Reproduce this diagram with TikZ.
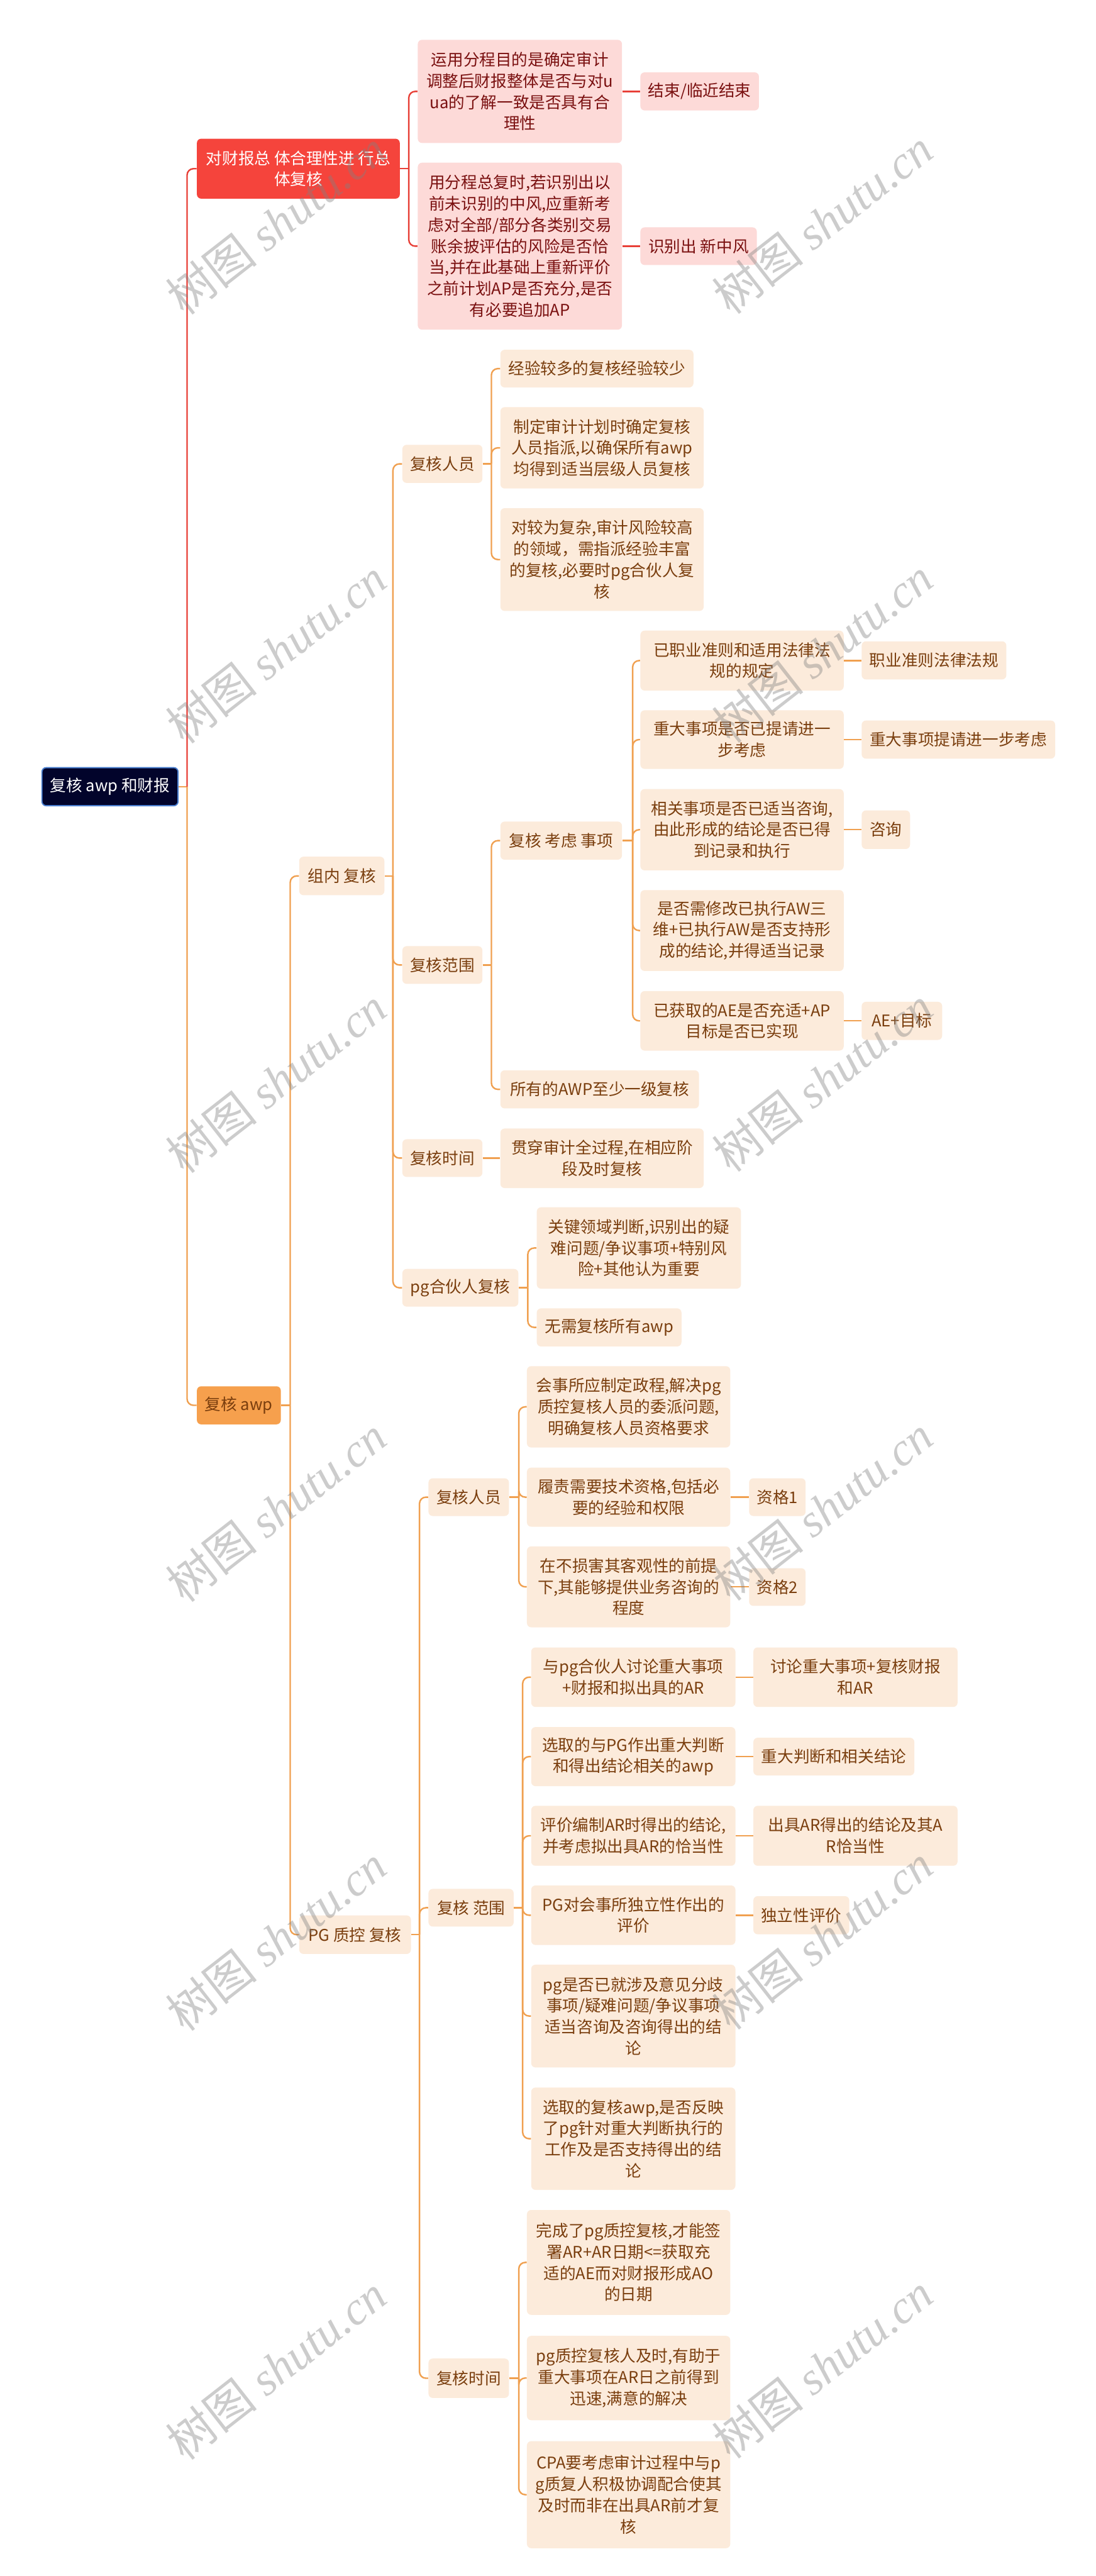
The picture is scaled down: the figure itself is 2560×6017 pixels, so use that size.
\documentclass[tikz,border=0pt]{standalone}
\usepackage{fontspec}
\setmainfont{Noto Sans CJK SC}
\newfontfamily\wmlatin{Liberation Serif}
\definecolor{rootfill}{HTML}{02042B}
\definecolor{rootedge}{HTML}{4A7FD0}
\definecolor{redmain}{HTML}{F5443C}
\definecolor{redsub}{HTML}{FDDAD8}
\definecolor{redtext}{HTML}{7A1010}
\definecolor{redline}{HTML}{E84038}
\definecolor{orgmain}{HTML}{F6A04D}
\definecolor{orgsub}{HTML}{FCEBDB}
\definecolor{orgtext}{HTML}{7A3E0E}
\definecolor{orgline}{HTML}{F0A050}
\newcommand\bx[7]{%
  \pgfmathsetmacro\bxw{(#5-#3)*0.01}%
  \pgfmathsetmacro\bxh{(#6-#4)*0.01}%
  \node[nbox,#2,minimum width=\bxw cm,minimum height=\bxh cm] (#1) at ({(#3+#5)/2},{(#4+#6)/2}) {#7};%
}
\newcommand\fork[3]{\draw[#3] (#1.east) -- (#1.east -| #2);}
\newcommand\kid[4]{\draw[#4,rounded corners=0.15cm] (#1.east -| #2) |- (#3.west);}
\newcommand\leaf[3]{\draw[#3] (#1.east) -- (#1.east -| #2.west);}
\begin{document}
\begin{tikzpicture}[x=0.01cm,y=-0.01cm,font=\fontsize{10.7pt}{14.1pt}\selectfont,
  nbox/.style={rectangle,rounded corners=0.1cm,inner sep=0pt,align=center},
  rootst/.style={fill=rootfill,draw=rootedge,line width=0.8pt,text=white},
  redm/.style={fill=redmain,text=white},
  reds/.style={fill=redsub,text=redtext},
  orgm/.style={fill=orgmain,text=orgtext},
  orgs/.style={fill=orgsub,text=orgtext},
  rl/.style={draw=redline,line width=1pt},
  ol/.style={draw=orgline,line width=1pt},
  wm/.style={rotate=38,text=gray,opacity=0.4,inner sep=0pt,font=\fontsize{31pt}{34pt}\selectfont}]
\useasboundingbox[fill=white] (0,0) rectangle (2560,6017);
% junctions
\coordinate (jR) at (437,0);
\coordinate (jA) at (955,0);
\coordinate (jB) at (678,0);
\coordinate (jB1) at (918,0);
\coordinate (jB1a) at (1148,0);
\coordinate (jB1b) at (1148,0);
\coordinate (jK) at (1478,0);
\coordinate (jB1d) at (1233,0);
\coordinate (jB2) at (980,0);
\coordinate (jB2a) at (1212,0);
\coordinate (jB2b) at (1221,0);
\coordinate (jB2c) at (1212,0);
% nodes
\bx{root}{rootst}{98}{1793}{416}{1882}{复核 awp 和财报}
\bx{A}{redm}{460}{324}{934}{464}{对财报总 体合理性进 行总\\体复核}
\bx{A1}{reds}{976}{93}{1453}{334}{运用分程目的是确定审计\\调整后财报整体是否与对u\\ua的了解一致是否具有合\\理性}
\bx{A1c}{reds}{1496}{169}{1773}{258}{结束/临近结束}
\bx{A2}{reds}{976}{380}{1453}{770}{用分程总复时,若识别出以\\前未识别的中风,应重新考\\虑对全部/部分各类别交易\\账余披评估的风险是否恰\\当,并在此基础上重新评价\\之前计划AP是否充分,是否\\有必要追加AP}
\bx{A2c}{reds}{1496}{531}{1768}{619}{识别出 新中风}
\bx{B}{orgm}{460}{3238}{656}{3327}{复核 awp}
\bx{B1}{orgs}{699}{2001}{898}{2091}{组内 复核}
\bx{B2}{orgs}{699}{4474}{960}{4564}{PG 质控 复核}
\bx{B1a}{orgs}{940}{1039}{1127}{1128}{复核人员}
\bx{B1a1}{orgs}{1169}{817}{1620}{905}{经验较多的复核经验较少}
\bx{B1a2}{orgs}{1169}{951}{1644}{1141}{制定审计计划时确定复核\\人员指派,以确保所有awp\\均得到适当层级人员复核}
\bx{B1a3}{orgs}{1169}{1187}{1644}{1427}{对较为复杂,审计风险较高\\的领域，需指派经验丰富\\的复核,必要时pg合伙人复\\核}
\bx{B1b}{orgs}{940}{2210}{1127}{2298}{复核范围}
\bx{K}{orgs}{1169}{1919}{1453}{2008}{复核 考虑 事项}
\bx{K1}{orgs}{1496}{1473}{1971}{1613}{已职业准则和适用法律法\\规的规定}
\bx{K1c}{orgs}{2013}{1498}{2351}{1587}{职业准则法律法规}
\bx{K2}{orgs}{1496}{1659}{1971}{1796}{重大事项是否已提请进一\\步考虑}
\bx{K2c}{orgs}{2013}{1683}{2465}{1772}{重大事项提请进一步考虑}
\bx{K3}{orgs}{1496}{1843}{1971}{2033}{相关事项是否已适当咨询,\\由此形成的结论是否已得\\到记录和执行}
\bx{K3c}{orgs}{2013}{1893}{2126}{1983}{咨询}
\bx{K4}{orgs}{1496}{2079}{1971}{2268}{是否需修改已执行AW三\\维+已执行AW是否支持形\\成的结论,并得适当记录}
\bx{K5}{orgs}{1496}{2315}{1971}{2454}{已获取的AE是否充适+AP\\目标是否已实现}
\bx{K5c}{orgs}{2013}{2340}{2201}{2429}{AE+目标}
\bx{B1b2}{orgs}{1169}{2500}{1633}{2589}{所有的AWP至少一级复核}
\bx{B1c}{orgs}{940}{2661}{1127}{2749}{复核时间}
\bx{B1c1}{orgs}{1169}{2636}{1644}{2775}{贯穿审计全过程,在相应阶\\段及时复核}
\bx{B1d}{orgs}{940}{2964}{1211}{3052}{pg合伙人复核}
\bx{B1d1}{orgs}{1254}{2820}{1731}{3010}{关键领域判断,识别出的疑\\难问题/争议事项+特别风\\险+其他认为重要}
\bx{B1d2}{orgs}{1254}{3056}{1592}{3145}{无需复核所有awp}
\bx{B2a}{orgs}{1001}{3453}{1189}{3541}{复核人员}
\bx{B2a1}{orgs}{1231}{3191}{1706}{3381}{会事所应制定政程,解决pg\\质控复核人员的委派问题,\\明确复核人员资格要求}
\bx{B2a2}{orgs}{1231}{3428}{1706}{3566}{履责需要技术资格,包括必\\要的经验和权限}
\bx{B2a2c}{orgs}{1750}{3453}{1882}{3541}{资格1}
\bx{B2a3}{orgs}{1231}{3612}{1706}{3801}{在不损害其客观性的前提\\下,其能够提供业务咨询的\\程度}
\bx{B2a3c}{orgs}{1750}{3663}{1882}{3751}{资格2}
\bx{B2b}{orgs}{1001}{4412}{1200}{4500}{复核 范围}
\bx{S1}{orgs}{1241}{3848}{1718}{3987}{与pg合伙人讨论重大事项\\+财报和拟出具的AR}
\bx{S1c}{orgs}{1760}{3848}{2237}{3987}{讨论重大事项+复核财报\\和AR}
\bx{S2}{orgs}{1241}{4034}{1718}{4172}{选取的与PG作出重大判断\\和得出结论相关的awp}
\bx{S2c}{orgs}{1760}{4059}{2136}{4147}{重大判断和相关结论}
\bx{S3}{orgs}{1241}{4218}{1718}{4358}{评价编制AR时得出的结论,\\并考虑拟出具AR的恰当性}
\bx{S3c}{orgs}{1760}{4218}{2237}{4358}{出具AR得出的结论及其A\\R恰当性}
\bx{S4}{orgs}{1241}{4404}{1718}{4543}{PG对会事所独立性作出的\\评价}
\bx{S4c}{orgs}{1760}{4429}{1984}{4518}{独立性评价}
\bx{S5}{orgs}{1241}{4589}{1718}{4829}{pg是否已就涉及意见分歧\\事项/疑难问题/争议事项\\适当咨询及咨询得出的结\\论}
\bx{S6}{orgs}{1241}{4876}{1718}{5115}{选取的复核awp,是否反映\\了pg针对重大判断执行的\\工作及是否支持得出的结\\论}
\bx{B2c}{orgs}{1001}{5509}{1189}{5601}{复核时间}
\bx{T1}{orgs}{1231}{5162}{1706}{5407}{完成了pg质控复核,才能签\\署AR+AR日期<=获取充\\适的AE而对财报形成AO\\的日期}
\bx{T2}{orgs}{1231}{5456}{1706}{5653}{pg质控复核人及时,有助于\\重大事项在AR日之前得到\\迅速,满意的解决}
\bx{T3}{orgs}{1231}{5702}{1706}{5952}{CPA要考虑审计过程中与p\\g质复人积极协调配合使其\\及时而非在出具AR前才复\\核}
% connectors: root
\fork{root}{jR}{ol}
\kid{root}{jR}{A}{rl}
\kid{root}{jR}{B}{ol}
% A subtree
\fork{A}{jA}{rl}
\kid{A}{jA}{A1}{rl}
\kid{A}{jA}{A2}{rl}
\leaf{A1}{A1c}{rl}
\leaf{A2}{A2c}{rl}
% B subtree
\fork{B}{jB}{ol}
\kid{B}{jB}{B1}{ol}
\kid{B}{jB}{B2}{ol}
\fork{B1}{jB1}{ol}
\kid{B1}{jB1}{B1a}{ol}
\kid{B1}{jB1}{B1b}{ol}
\kid{B1}{jB1}{B1c}{ol}
\kid{B1}{jB1}{B1d}{ol}
\fork{B1a}{jB1a}{ol}
\kid{B1a}{jB1a}{B1a1}{ol}
\kid{B1a}{jB1a}{B1a2}{ol}
\kid{B1a}{jB1a}{B1a3}{ol}
\fork{B1b}{jB1b}{ol}
\kid{B1b}{jB1b}{K}{ol}
\kid{B1b}{jB1b}{B1b2}{ol}
\fork{K}{jK}{ol}
\kid{K}{jK}{K1}{ol}
\kid{K}{jK}{K2}{ol}
\kid{K}{jK}{K3}{ol}
\kid{K}{jK}{K4}{ol}
\kid{K}{jK}{K5}{ol}
\leaf{K1}{K1c}{ol}
\leaf{K2}{K2c}{ol}
\leaf{K3}{K3c}{ol}
\leaf{K5}{K5c}{ol}
\leaf{B1c}{B1c1}{ol}
\fork{B1d}{jB1d}{ol}
\kid{B1d}{jB1d}{B1d1}{ol}
\kid{B1d}{jB1d}{B1d2}{ol}
\fork{B2}{jB2}{ol}
\kid{B2}{jB2}{B2a}{ol}
\kid{B2}{jB2}{B2b}{ol}
\kid{B2}{jB2}{B2c}{ol}
\fork{B2a}{jB2a}{ol}
\kid{B2a}{jB2a}{B2a1}{ol}
\kid{B2a}{jB2a}{B2a2}{ol}
\kid{B2a}{jB2a}{B2a3}{ol}
\leaf{B2a2}{B2a2c}{ol}
\leaf{B2a3}{B2a3c}{ol}
\fork{B2b}{jB2b}{ol}
\kid{B2b}{jB2b}{S1}{ol}
\kid{B2b}{jB2b}{S2}{ol}
\kid{B2b}{jB2b}{S3}{ol}
\kid{B2b}{jB2b}{S4}{ol}
\kid{B2b}{jB2b}{S5}{ol}
\kid{B2b}{jB2b}{S6}{ol}
\leaf{S1}{S1c}{ol}
\leaf{S2}{S2c}{ol}
\leaf{S3}{S3c}{ol}
\leaf{S4}{S4c}{ol}
\fork{B2c}{jB2c}{ol}
\kid{B2c}{jB2c}{T1}{ol}
\kid{B2c}{jB2c}{T2}{ol}
\kid{B2c}{jB2c}{T3}{ol}
% watermarks
\foreach \k in {0,...,5}{
  \node[wm] (wmL\k) at (645,{520+1002*\k}) {树图 {\wmlatin\itshape shutu.cn}};
  \node[wm] (wmR\k) at (1922,{518+1002*\k}) {树图 {\wmlatin\itshape shutu.cn}};
}
\end{tikzpicture}
\end{document}
